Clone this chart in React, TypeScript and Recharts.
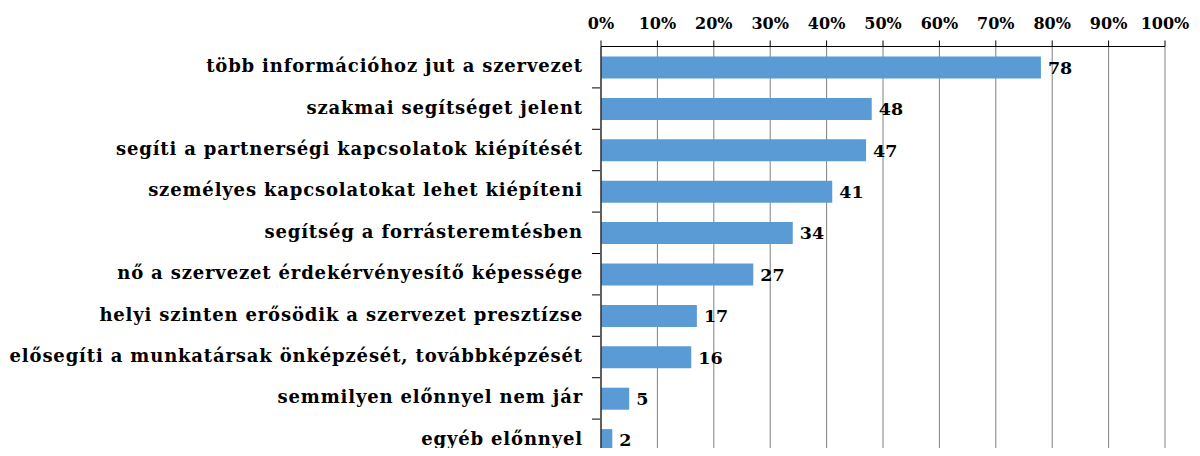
import { BarChart, Bar, XAxis, YAxis, CartesianGrid, LabelList } from 'recharts';

const categories = [
  'több információhoz jut a szervezet',
  'szakmai segítséget jelent',
  'segíti a partnerségi kapcsolatok kiépítését',
  'személyes kapcsolatokat lehet kiépíteni',
  'segítség a forrásteremtésben',
  'nő a szervezet érdekérvényesítő képessége',
  'helyi szinten erősödik a szervezet presztízse',
  'elősegíti a munkatársak önképzését, továbbképzését',
  'semmilyen előnnyel nem jár',
  'egyéb előnnyel',
];

const values = [78, 48, 47, 41, 34, 27, 17, 16, 5, 2];

const percentTicks = [0, 10, 20, 30, 40, 50, 60, 70, 80, 90, 100];

const data = categories.map((name, i) => ({ name, value: values[i] }));

const FONT = '"DejaVu Serif", serif';

const CategoryTick = (props: any) => {
  const { x, y, payload, index } = props;
  const step = 41.4;
  return (
    <g>
      <text
        x={x - 10}
        y={y}
        dy={5}
        textAnchor="end"
        fontFamily={FONT}
        fontWeight="bold"
        fontSize={18}
        letterSpacing={0.84}
        fill="#000"
      >
        {payload.value}
      </text>
      {index > 0 && (
        <line x1={x - 1} x2={x + 7} y1={y - step / 2} y2={y - step / 2} stroke="#000" />
      )}
    </g>
  );
};

export default function App() {
  return (
    <div style={{ margin: -8, background: '#fff' }}>
      <BarChart
        width={1200}
        height={456}
        data={data}
        layout="vertical"
        margin={{ top: 16.5, right: 35, bottom: -4.5, left: 0 }}
        barCategoryGap={0}
      >
        <CartesianGrid horizontal={false} vertical stroke="#808080" />
        <XAxis
          type="number"
          orientation="top"
          domain={[0, 100]}
          ticks={percentTicks}
          tickFormatter={(v) => `${v}%`}
          tick={{ fontFamily: FONT, fontWeight: 'bold', fontSize: 16, fill: '#000' }}
          tickSize={6}
          tickMargin={12}
          stroke="#000"
          interval={0}
          height={30}
        />
        <YAxis
          type="category"
          dataKey="name"
          width={601}
          tick={<CategoryTick />}
          tickLine={false}
          stroke="#000"
          interval={0}
        />
        <Bar dataKey="value" fill="#5B9BD5" barSize={22} isAnimationActive={false}>
          <LabelList
            dataKey="value"
            position="right"
            offset={7}
            style={{ fontFamily: FONT, fontWeight: 'bold', fontSize: 17.5, fill: '#000' }}
          />
        </Bar>
      </BarChart>
    </div>
  );
}
